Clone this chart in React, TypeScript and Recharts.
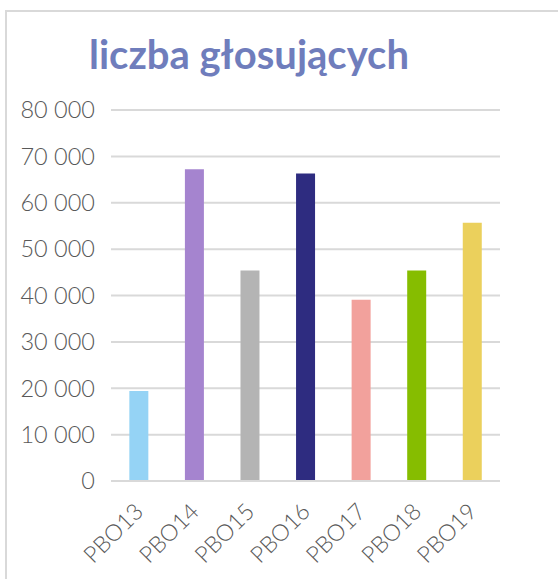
import { BarChart, Bar, XAxis, YAxis, CartesianGrid, Cell } from "recharts";

const categories = ["PBO13", "PBO14", "PBO15", "PBO16", "PBO17", "PBO18", "PBO19"];
const voters = [19400, 67200, 45400, 66300, 39100, 45400, 55700];
const barColors = ["#95d3f5", "#a584cf", "#b4b4b4", "#2e2c80", "#f2a19c", "#86bd00", "#ebd05c"];
const yTicks = [0, 10000, 20000, 30000, 40000, 50000, 60000, 70000, 80000];

const data = categories.map((name, i) => ({ name, value: voters[i] }));

const FONT = "Lato, 'DejaVu Sans', sans-serif";

const formatThousands = (v: number) =>
  v === 0 ? "0" : `${Math.floor(v / 1000)} ${String(v % 1000).padStart(3, "0")}`;

// rotated category label, end of text near the bar centre
const AngledTick = (props: any) => {
  const { x, y, payload } = props;
  return (
    <g transform={`translate(${x + 6},${y + 32})`}>
      <text
        x={0}
        y={0}
        textAnchor="end"
        transform="rotate(-45)"
        fill="#595959"
        fontSize={23}
        fontWeight={300}
        fontFamily={FONT}
      >
        {payload.value}
      </text>
    </g>
  );
};

export default function App() {
  return (
    <div
      style={{
        position: "fixed",
        left: 0,
        top: 0,
        width: 558,
        height: 579,
        overflow: "hidden",
        background: "#fff",
      }}
    >
      {/* chart frame, cut off at right and bottom */}
      <div
        style={{
          position: "absolute",
          left: 5,
          top: 10,
          width: 600,
          height: 600,
          borderTop: "2px solid #d9d9d9",
          borderLeft: "2px solid #d9d9d9",
        }}
      />
      <div
        style={{
          position: "absolute",
          left: 89,
          top: 29,
          fontFamily: FONT,
          fontWeight: 700,
          fontSize: 40,
          color: "#6f7dbc",
          whiteSpace: "nowrap",
          lineHeight: "50px",
        }}
      >
        liczba głosujących
      </div>
      <div style={{ position: "absolute", left: 0, top: 0 }}>
        <BarChart
          width={558}
          height={579}
          data={data}
          margin={{ top: 110, right: 58, bottom: 0, left: 0 }}
          barCategoryGap="33%"
        >
          <CartesianGrid vertical={false} stroke="#d9d9d9" strokeWidth={2} />
          <XAxis
            dataKey="name"
            axisLine={{ stroke: "#d9d9d9", strokeWidth: 2 }}
            tickLine={false}
            tickSize={0}
            tickMargin={0}
            height={98}
            interval={0}
            tick={<AngledTick />}
          />
          <YAxis
            width={111}
            domain={[0, 80000]}
            ticks={yTicks}
            axisLine={false}
            tickLine={false}
            tickSize={0}
            tickMargin={16}
            tickFormatter={formatThousands}
            tick={{ fill: "#595959", fontSize: 23.5, fontWeight: 300, fontFamily: FONT }}
          />
          <Bar dataKey="value" isAnimationActive={false}>
            {data.map((d, i) => (
              <Cell key={d.name} fill={barColors[i]} />
            ))}
          </Bar>
        </BarChart>
      </div>
    </div>
  );
}
